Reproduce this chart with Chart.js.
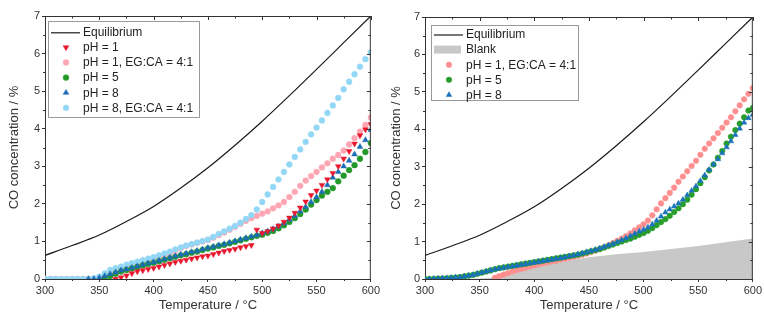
<!DOCTYPE html>
<html>
<head>
<meta charset="utf-8">
<script src="https://cdn.jsdelivr.net/npm/chart.js@4"></script>
<style>
  html, body { margin: 0; padding: 0; background: #fff; }
  .wrap { display: flex; width: 764px; height: 320px; }
  canvas { display: block; }
</style>
</head>
<body>
<div class="wrap">
  <canvas id="left" width="382" height="320"></canvas>
  <canvas id="right" width="382" height="320"></canvas>
</div>
<script>
/* global Chart */

// ---- data ----
const xTicks = [300, 350, 400, 450, 500, 550, 600];
const xMinor = [325, 375, 425, 475, 525, 575];
const yTicks = [0, 1, 2, 3, 4, 5, 6, 7];
const yMinor = [0.5, 1.5, 2.5, 3.5, 4.5, 5.5, 6.5];

const eqT = [300, 325, 350, 375, 400, 425, 450, 475, 500, 525, 550, 575, 600];
const eqY = [0.63, 0.89, 1.17, 1.53, 1.93, 2.42, 2.96, 3.56, 4.2, 4.88, 5.58, 6.29, 7.0];

// left panel, every 5 °C
const tLeft = [300, 305, 310, 315, 320, 325, 330, 335, 340, 345, 350, 355, 360, 365, 370, 375, 380, 385, 390, 395,
  400, 405, 410, 415, 420, 425, 430, 435, 440, 445, 450, 455, 460, 465, 470, 475, 480, 485, 490, 495,
  500, 505, 510, 515, 520, 525, 530, 535, 540, 545, 550, 555, 560, 565, 570, 575, 580, 585, 590, 595, 600];
const ph1 = [null, null, null, null, null, null, null, null, null, null, null, null, null, 0.0, 0.04, 0.09, 0.15, 0.2, 0.23, 0.26,
  0.29, 0.33, 0.37, 0.41, 0.45, 0.48, 0.51, 0.54, 0.57, 0.6, 0.62, 0.66, 0.7, 0.74, 0.77, 0.8, 0.84, 0.87, 0.9, 1.31,
  1.22, 1.27, 1.34, 1.42, 1.52, 1.63, 1.76, 1.9, 2.06, 2.23, 2.35, 2.5, 2.65, 2.82, 3.0, 3.2, 3.4, 3.6, 3.82, 3.98, 4.12];
const ph1Eg = [0, 0, 0, 0, 0, 0, 0, 0, 0, 0, 0.03, 0.08, 0.14, 0.2, 0.26, 0.31, 0.36, 0.41, 0.45, 0.49,
  0.53, 0.58, 0.63, 0.69, 0.75, 0.82, 0.88, 0.92, 0.96, 1.0, 1.04, 1.1, 1.17, 1.24, 1.31, 1.39, 1.47, 1.55, 1.62, 1.68,
  1.74, 1.8, 1.88, 1.96, 2.05, 2.18, 2.32, 2.48, 2.62, 2.74, 2.85, 2.97, 3.08, 3.2, 3.3, 3.42, 3.58, 3.75, 3.92, 4.1, 4.3];
const ph5 = [null, null, null, null, null, null, null, null, null, null, null, 0.02, 0.08, 0.14, 0.2, 0.24, 0.28, 0.32, 0.36, 0.4,
  0.43, 0.47, 0.51, 0.55, 0.59, 0.63, 0.66, 0.7, 0.73, 0.77, 0.81, 0.84, 0.88, 0.91, 0.95, 0.99, 1.03, 1.07, 1.11, 1.15,
  1.18, 1.23, 1.28, 1.35, 1.43, 1.52, 1.62, 1.73, 1.85, 1.98, 2.1, 2.22, 2.32, 2.42, 2.6, 2.75, 2.9, 3.03, 3.2, 3.38, 3.62];
const ph8 = [null, null, null, null, null, null, null, null, 0.0, 0.0, 0.03, 0.08, 0.13, 0.18, 0.23, 0.26, 0.3, 0.34, 0.38, 0.42,
  0.45, 0.49, 0.53, 0.57, 0.61, 0.65, 0.68, 0.72, 0.75, 0.79, 0.83, 0.86, 0.9, 0.93, 0.97, 1.01, 1.05, 1.09, 1.13, 1.17,
  1.22, 1.27, 1.33, 1.4, 1.48, 1.58, 1.68, 1.8, 1.92, 2.05, 2.18, 2.32, 2.5, 2.7, 2.85, 3.0, 3.15, 3.32, 3.52, 3.7, 3.97];
const ph8Eg = [0, 0, 0, 0, 0, 0, 0, 0, 0, 0.02, 0.06, 0.15, 0.24, 0.29, 0.33, 0.38, 0.42, 0.46, 0.5, 0.54,
  0.58, 0.63, 0.68, 0.73, 0.79, 0.84, 0.89, 0.93, 0.97, 1.01, 1.05, 1.12, 1.2, 1.27, 1.34, 1.41, 1.5, 1.6, 1.7, 1.85,
  2.05, 2.25, 2.45, 2.65, 2.85, 3.05, 3.25, 3.45, 3.65, 3.85, 4.03, 4.22, 4.42, 4.62, 4.82, 5.05, 5.25, 5.45, 5.65, 5.85, 6.03];

// right panel, every 4 °C
const tRight = [300, 304, 308, 312, 316, 320, 324, 328, 332, 336, 340, 344, 348, 352, 356, 360, 364, 368, 372, 376,
  380, 384, 388, 392, 396, 400, 404, 408, 412, 416, 420, 424, 428, 432, 436, 440, 444, 448, 452, 456,
  460, 464, 468, 472, 476, 480, 484, 488, 492, 496, 500, 504, 508, 512, 516, 520, 524, 528, 532, 536,
  540, 544, 548, 552, 556, 560, 564, 568, 572, 576, 580, 584, 588, 592, 596, 600];
const r1Eg = [null, null, null, null, null, null, null, null, null, null, null, null, null, null, null, null, 0.03, 0.08, 0.12, 0.16,
  0.2, 0.24, 0.27, 0.3, 0.33, 0.36, 0.39, 0.42, 0.44, 0.47, 0.49, 0.52, 0.54, 0.57, 0.59, 0.62, 0.65, 0.68, 0.72, 0.76,
  0.8, 0.85, 0.9, 0.96, 1.02, 1.08, 1.15, 1.22, 1.3, 1.38, 1.46, 1.56, 1.7, 1.86, 2.02, 2.16, 2.3, 2.44, 2.6, 2.74,
  2.88, 3.02, 3.16, 3.32, 3.48, 3.62, 3.76, 3.9, 4.04, 4.18, 4.32, 4.48, 4.64, 4.8, 4.95, 5.1];
const r5 = [0, 0, 0, 0.01, 0.01, 0.02, 0.03, 0.04, 0.05, 0.07, 0.09, 0.11, 0.14, 0.17, 0.2, 0.23, 0.26, 0.29, 0.31, 0.33,
  0.35, 0.37, 0.39, 0.41, 0.43, 0.45, 0.47, 0.49, 0.51, 0.53, 0.55, 0.57, 0.59, 0.61, 0.63, 0.65, 0.68, 0.71, 0.74, 0.77,
  0.8, 0.84, 0.88, 0.92, 0.96, 1.0, 1.04, 1.08, 1.13, 1.18, 1.23, 1.29, 1.36, 1.44, 1.52, 1.6, 1.69, 1.79, 1.89, 2.0,
  2.12, 2.25, 2.4, 2.56, 2.72, 2.9, 3.06, 3.24, 3.42, 3.62, 3.8, 3.98, 4.15, 4.32, 4.5, 4.57];
const r8 = [0, 0, 0.01, 0.01, 0.02, 0.02, 0.03, 0.04, 0.05, 0.07, 0.09, 0.11, 0.14, 0.17, 0.2, 0.23, 0.26, 0.28, 0.3, 0.32,
  0.34, 0.36, 0.38, 0.4, 0.42, 0.44, 0.46, 0.48, 0.5, 0.52, 0.54, 0.56, 0.58, 0.61, 0.63, 0.66, 0.69, 0.72, 0.75, 0.78,
  0.82, 0.86, 0.9, 0.94, 0.99, 1.04, 1.09, 1.15, 1.21, 1.27, 1.32, 1.38, 1.46, 1.56, 1.67, 1.78, 1.86, 1.94, 2.02, 2.12,
  2.24, 2.36, 2.48, 2.62, 2.77, 2.92, 3.06, 3.2, 3.36, 3.52, 3.68, 3.85, 4.02, 4.18, 4.3, 4.39];
const blankT = [300, 340, 360, 370, 380, 400, 425, 450, 475, 500, 525, 550, 575, 600];
const blankY = [0, 0, 0.03, 0.1, 0.18, 0.33, 0.47, 0.58, 0.66, 0.72, 0.8, 0.88, 0.98, 1.08];

// ---- helpers ----
const FONT = "'Liberation Sans', Arial, sans-serif";
Chart.defaults.font.family = FONT;
Chart.defaults.font.size = 11;
Chart.defaults.color = "#333";

function pts(ts, vs) {
  return ts.map((t, i) => ({ x: t, y: vs[i] })).filter((p) => p.y !== null);
}

function eqDataset() {
  return {
    label: "Equilibrium", data: pts(eqT, eqY), showLine: true, pointRadius: 0,
    borderColor: "#1a1a1a", borderWidth: 1.2, cubicInterpolationMode: "monotone", order: 0,
  };
}

function markers(label, data, color, style, rot, r, order) {
  return {
    label, data, pointStyle: style, rotation: rot, pointRadius: r,
    backgroundColor: color, borderColor: color, borderWidth: 0.5, showLine: false, order,
  };
}

/* frame: top/right axis lines, mirrored inward ticks, minor ticks */
const framePlugin = {
  id: "frame",
  afterDraw(chart) {
    const { ctx, chartArea: a, scales } = chart;
    const x = scales.x, y = scales.y;
    ctx.save();
    ctx.strokeStyle = "#333";
    ctx.lineWidth = 1;
    ctx.beginPath();
    ctx.moveTo(a.left, a.top + 0.5);
    ctx.lineTo(a.right, a.top + 0.5);
    ctx.moveTo(a.right - 0.5, a.top);
    ctx.lineTo(a.right - 0.5, a.bottom);
    xTicks.forEach((v) => {
      const px = Math.round(x.getPixelForValue(v)) + 0.5;
      ctx.moveTo(px, a.top); ctx.lineTo(px, a.top + 4);
    });
    xMinor.forEach((v) => {
      const px = Math.round(x.getPixelForValue(v)) + 0.5;
      ctx.moveTo(px, a.top); ctx.lineTo(px, a.top + 2.5);
      ctx.moveTo(px, a.bottom); ctx.lineTo(px, a.bottom + 2);
    });
    yTicks.forEach((v) => {
      const py = Math.round(y.getPixelForValue(v)) + 0.5;
      ctx.moveTo(a.right, py); ctx.lineTo(a.right - 4, py);
    });
    yMinor.forEach((v) => {
      const py = Math.round(y.getPixelForValue(v)) + 0.5;
      ctx.moveTo(a.right, py); ctx.lineTo(a.right - 2.5, py);
      ctx.moveTo(a.left, py); ctx.lineTo(a.left - 2, py);
    });
    ctx.stroke();
    ctx.restore();
  },
};

/* boxed legend inside the plot, top-left */
const boxLegend = {
  id: "boxLegend",
  afterDraw(chart, args, o) {
    const ctx = chart.ctx;
    ctx.save();
    ctx.fillStyle = "rgba(255,255,255,0.9)";
    ctx.fillRect(o.x, o.y, o.w, o.h);
    ctx.strokeStyle = "#9a9a9a";
    ctx.lineWidth = 1;
    ctx.strokeRect(o.x + 0.5, o.y + 0.5, o.w, o.h);
    chart.data.datasets.forEach((ds, i) => {
      const cy = o.first + i * o.step;
      if (ds.fill) {
        ctx.fillStyle = ds.backgroundColor;
        ctx.fillRect(o.x + 3, cy - 4, 27, 8);
      } else if (ds.showLine) {
        ctx.strokeStyle = ds.borderColor;
        ctx.lineWidth = ds.borderWidth;
        ctx.beginPath();
        ctx.moveTo(o.x + 3, cy + 0.5);
        ctx.lineTo(o.x + 32, cy + 0.5);
        ctx.stroke();
      } else {
        ctx.fillStyle = ds.backgroundColor;
        ctx.strokeStyle = ds.borderColor;
        ctx.lineWidth = ds.borderWidth;
        Chart.helpers.drawPoint(ctx, {
          pointStyle: ds.pointStyle, rotation: ds.rotation || 0,
          radius: ds.pointRadius, borderWidth: ds.borderWidth,
        }, o.x + 18, cy);
      }
      ctx.fillStyle = "#222";
      ctx.font = "12px " + FONT;
      ctx.textBaseline = "middle";
      ctx.fillText(ds.label, o.x + 35, cy + 0.5);
    });
    ctx.restore();
  },
};

function makeOptions(yWidth, legend) {
  return {
    responsive: false,
    animation: false,
    layout: { padding: { left: 2, right: 9, top: 16, bottom: 0 } },
    plugins: { legend: { display: false }, tooltip: { enabled: false }, boxLegend: legend },
    scales: {
      x: {
        type: "linear", min: 300, max: 600,
        ticks: { stepSize: 50, padding: 2, color: "#333", font: { size: 11 } },
        grid: { drawOnChartArea: false, tickLength: 3, tickColor: "#333" },
        border: { color: "#333" },
        title: { display: true, text: "Temperature / °C", color: "#333", font: { size: 13 }, padding: { top: 2, bottom: 7 } },
        afterFit: (s) => { s.height = 41; },
      },
      y: {
        min: 0, max: 7,
        ticks: { stepSize: 1, padding: 2, color: "#333", font: { size: 11 } },
        grid: { drawOnChartArea: false, tickLength: 3, tickColor: "#333" },
        border: { color: "#333" },
        title: { display: true, text: "CO concentration / %", color: "#333", font: { size: 13 }, padding: { top: 5, bottom: 2 } },
        afterFit: (s) => { s.width = yWidth; },
      },
    },
  };
}

new Chart(document.getElementById("left"), {
  type: "scatter",
  data: {
    datasets: [
      eqDataset(),
      markers("pH = 1", pts(tLeft, ph1), "#e8172d", "triangle", 180, 3.3, 1),
      markers("pH = 1, EG:CA = 4:1", pts(tLeft, ph1Eg), "#ffa6b4", "circle", 0, 2.9, 6),
      markers("pH = 5", pts(tLeft, ph5), "#23992a", "circle", 0, 2.9, 3),
      markers("pH = 8", pts(tLeft, ph8), "#1c6db5", "triangle", 0, 3.3, 2),
      markers("pH = 8, EG:CA = 4:1", pts(tLeft, ph8Eg), "#92d7f5", "circle", 0, 2.9, 5),
    ],
  },
  options: makeOptions(43, { x: 48, y: 21, w: 151, h: 96, first: 32.3, step: 15.1 }),
  plugins: [framePlugin, boxLegend],
});

const rightOpts = makeOptions(41, { x: 49, y: 25, w: 147, h: 75, first: 34.5, step: 15.1 });
rightOpts.layout.padding = { left: 2, right: 10, top: 17, bottom: 0 };

new Chart(document.getElementById("right"), {
  type: "scatter",
  data: {
    datasets: [
      eqDataset(),
      {
        label: "Blank", data: pts(blankT, blankY), showLine: true, fill: "origin", pointRadius: 0,
        borderWidth: 0, borderColor: "#c8c8c8", backgroundColor: "#c8c8c8", order: 10,
      },
      markers("pH = 1, EG:CA = 4:1", pts(tRight, r1Eg), "#ff8e8e", "circle", 0, 2.8, 4),
      markers("pH = 5", pts(tRight, r5), "#289e2a", "circle", 0, 2.8, 3),
      markers("pH = 8", pts(tRight, r8), "#1a72bd", "triangle", 0, 3.2, 2),
    ],
  },
  options: rightOpts,
  plugins: [framePlugin, boxLegend],
});
</script>
</body>
</html>
